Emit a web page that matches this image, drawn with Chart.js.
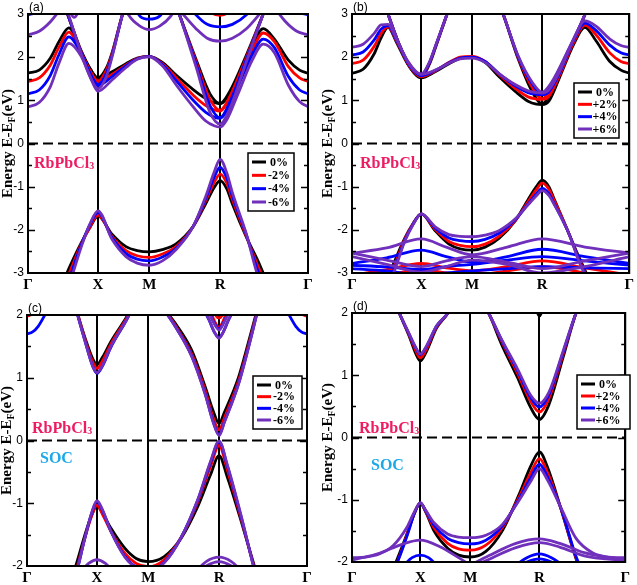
<!DOCTYPE html>
<html lang="en">
<head>
<meta charset="UTF-8">
<meta name="viewport" content="width=device-width, initial-scale=1.0">
<title>RbPbCl3 band structure under strain</title>
<script src="https://cdn.jsdelivr.net/npm/chart.js"></script>
<style>
  html, body { margin: 0; padding: 0; background: #ffffff; }
  body { position: relative; width: 637px; height: 585px; overflow: hidden; }
  canvas { position: absolute; }
</style>
</head>
<body>
<canvas id="panelA" width="318" height="296" style="left:0;top:0"></canvas>
<canvas id="panelB" width="319" height="296" style="left:318px;top:0"></canvas>
<canvas id="panelC" width="318" height="289" style="left:0;top:296px"></canvas>
<canvas id="panelD" width="319" height="289" style="left:318px;top:296px"></canvas>

<script>
// k-path ticks and labels
const kTicks = [0, 0.25, 0.433, 0.686, 1];
const kLabels = ['Γ', 'X', 'M', 'R', 'Γ'];
const strainsComp = ['0%', '-2%', '-4%', '-6%'];
const strainsTens = ['0%', '+2%', '+4%', '+6%'];
const strainColors = ['#000000', '#ff0000', '#0000ff', '#7030bb'];

// ---------- (a) compressive, no SOC ----------
const kA_cb1 = [0, 0.04, 0.08, 0.11, 0.146, 0.19, 0.22, 0.25, 0.30, 0.35, 0.39, 0.433, 0.48, 0.53, 0.59, 0.635, 0.665, 0.686, 0.71, 0.75, 0.80, 0.84, 0.88, 0.93, 0.97, 1.0];
const eA_cb1 = [
  [1.63, 1.70, 1.98, 2.35, 2.68, 2.13, 1.75, 1.50, 1.66, 1.85, 1.98, 2.02, 1.88, 1.58, 1.25, 1.04, 0.95, 0.92, 1.05, 1.55, 2.25, 2.66, 2.42, 1.93, 1.70, 1.63],
  [1.44, 1.52, 1.82, 2.22, 2.58, 2.10, 1.70, 1.42, 1.60, 1.82, 1.97, 2.02, 1.85, 1.52, 1.12, 0.88, 0.78, 0.75, 0.92, 1.45, 2.15, 2.56, 2.36, 1.78, 1.52, 1.44],
  [1.15, 1.24, 1.58, 2.05, 2.47, 2.08, 1.65, 1.34, 1.55, 1.80, 1.96, 2.02, 1.83, 1.45, 1.00, 0.72, 0.61, 0.58, 0.76, 1.32, 2.05, 2.42, 2.22, 1.55, 1.24, 1.15],
  [0.85, 0.95, 1.32, 1.85, 2.32, 2.02, 1.58, 1.21, 1.47, 1.76, 1.95, 2.01, 1.80, 1.35, 0.85, 0.52, 0.41, 0.38, 0.55, 1.15, 1.92, 2.30, 2.10, 1.35, 0.97, 0.85]
];
const kA_cb2 = [0.11, 0.141, 0.19, 0.225, 0.25, 0.28, 0.30, 0.338, 0.37];
const eA_cb2 = [
  [3.5, 3.0, 2.15, 1.70, 1.52, 1.75, 2.10, 3.0, 3.6],
  [3.5, 3.0, 2.12, 1.64, 1.45, 1.70, 2.07, 3.0, 3.6],
  [3.5, 3.0, 2.10, 1.57, 1.37, 1.63, 2.03, 3.0, 3.6],
  [3.55, 3.05, 2.08, 1.50, 1.27, 1.55, 2.00, 3.0, 3.6]
];
const kA_cb3 = [0.52, 0.54, 0.60, 0.65, 0.686, 0.72, 0.78, 0.84, 0.87];
const eA_cb3 = [
  [3.35, 3.0, 1.95, 1.15, 0.93, 1.20, 2.05, 3.0, 3.5],
  [3.35, 3.0, 1.90, 1.02, 0.77, 1.08, 2.00, 3.0, 3.5],
  [3.35, 3.0, 1.85, 0.88, 0.60, 0.95, 1.95, 3.0, 3.5],
  [3.35, 3.0, 1.78, 0.72, 0.45, 0.80, 1.90, 3.0, 3.5]
];
const kA_m = [0.33, 0.36, 0.40, 0.433, 0.47, 0.51, 0.54];
const eA_m = [null, null,
  [3.8, 3.4, 2.95, 2.88, 2.95, 3.35, 3.7],
  [3.4, 2.97, 2.72, 2.64, 2.72, 2.95, 3.3]];
const kA_r = [0.55, 0.60, 0.64, 0.686, 0.73, 0.78, 0.83];
const eA_r = [null,
  [3.8, 3.35, 3.08, 2.97, 3.08, 3.35, 3.8],
  [3.4, 2.98, 2.76, 2.70, 2.76, 2.98, 3.4],
  [3.02, 2.66, 2.44, 2.37, 2.44, 2.66, 3.02]];
const kA_g = [0, 0.04, 0.08, 0.12, 0.5, 0.88, 0.92, 0.96, 1.0];
const eA_g = [null, null,
  [2.98, 3.05, 3.2, 3.4, null, 3.4, 3.2, 3.05, 2.98],
  [2.52, 2.60, 2.82, 3.15, null, 3.15, 2.82, 2.60, 2.52]];
const kA_h = [0.145, 0.165, 0.185];
const eA_h = [null, null, null, [3.1, 2.92, 3.1]];
const kA_vb = [0.10, 0.15, 0.19, 0.22, 0.25, 0.30, 0.35, 0.39, 0.433, 0.48, 0.53, 0.59, 0.635, 0.665, 0.686, 0.71, 0.73, 0.78, 0.82, 0.86, 0.90];
const eA_vb = [
  [-3.6, -2.84, -2.30, -1.96, -1.68, -2.10, -2.39, -2.48, -2.51, -2.46, -2.32, -1.92, -1.39, -1.02, -0.86, -1.05, -1.40, -2.17, -2.70, -3.3, -3.8],
  [-3.7, -2.96, -2.33, -1.95, -1.66, -2.15, -2.48, -2.60, -2.64, -2.56, -2.38, -1.92, -1.32, -0.90, -0.71, -0.92, -1.30, -2.15, -2.82, -3.4, -3.9],
  [-3.8, -3.08, -2.35, -1.90, -1.60, -2.18, -2.55, -2.68, -2.72, -2.63, -2.42, -1.92, -1.27, -0.78, -0.55, -0.80, -1.22, -2.12, -2.93, -3.5, -4.0],
  [-3.9, -3.20, -2.40, -1.88, -1.56, -2.22, -2.62, -2.77, -2.82, -2.72, -2.45, -1.92, -1.22, -0.66, -0.37, -0.68, -1.14, -2.10, -3.05, -3.6, -4.1]
];

// ---------- (b) tensile, no SOC ----------
const kB_cb1 = [0, 0.04, 0.08, 0.105, 0.13, 0.16, 0.20, 0.25, 0.30, 0.35, 0.39, 0.433, 0.48, 0.53, 0.59, 0.635, 0.665, 0.686, 0.71, 0.75, 0.80, 0.84, 0.88, 0.93, 0.97, 1.0];
const eB_cb1 = [
  [1.63, 1.72, 2.08, 2.45, 2.69, 2.35, 1.85, 1.52, 1.66, 1.85, 1.97, 2.00, 1.88, 1.55, 1.20, 0.98, 0.91, 0.90, 0.98, 1.55, 2.30, 2.69, 2.38, 1.90, 1.70, 1.63],
  [1.85, 1.93, 2.25, 2.55, 2.70, 2.38, 1.88, 1.55, 1.68, 1.88, 2.00, 2.02, 1.90, 1.60, 1.27, 1.08, 1.03, 1.02, 1.09, 1.60, 2.35, 2.74, 2.52, 2.10, 1.90, 1.85],
  [2.05, 2.12, 2.40, 2.65, 2.73, 2.40, 1.90, 1.57, 1.69, 1.87, 1.98, 2.00, 1.90, 1.62, 1.33, 1.18, 1.14, 1.13, 1.20, 1.65, 2.40, 2.79, 2.62, 2.28, 2.10, 2.05],
  [2.23, 2.30, 2.55, 2.75, 2.76, 2.42, 1.92, 1.60, 1.70, 1.86, 1.96, 1.98, 1.88, 1.62, 1.36, 1.22, 1.18, 1.17, 1.24, 1.68, 2.42, 2.84, 2.72, 2.42, 2.27, 2.23]
];
const kB_cb2 = [0.10, 0.13, 0.17, 0.21, 0.25, 0.28, 0.30, 0.343, 0.37];
const eB_cb2 = [
  [3.6, 3.0, 2.3, 1.75, 1.55, 1.85, 2.20, 3.0, 3.5],
  [3.6, 3.0, 2.3, 1.76, 1.57, 1.87, 2.22, 3.0, 3.5],
  [3.6, 3.0, 2.3, 1.78, 1.59, 1.88, 2.23, 3.0, 3.5],
  [3.6, 3.0, 2.3, 1.80, 1.61, 1.90, 2.24, 3.0, 3.5]
];
const kB_cb3 = [0.52, 0.545, 0.60, 0.65, 0.686, 0.72, 0.78, 0.841, 0.87];
const eB_cb3 = [
  [3.4, 3.0, 1.95, 1.20, 0.92, 1.20, 2.05, 3.0, 3.5],
  [3.4, 3.0, 1.98, 1.30, 1.04, 1.30, 2.10, 3.0, 3.5],
  [3.4, 3.0, 2.00, 1.38, 1.15, 1.38, 2.15, 3.0, 3.5],
  [3.4, 3.0, 2.02, 1.42, 1.19, 1.42, 2.17, 3.0, 3.5]
];
const kB_vb = [0.10, 0.15, 0.19, 0.22, 0.25, 0.30, 0.35, 0.39, 0.433, 0.48, 0.53, 0.59, 0.635, 0.665, 0.686, 0.71, 0.73, 0.78, 0.82, 0.86, 0.90];
const eB_vb = [
  [-3.5, -2.78, -2.20, -1.86, -1.63, -2.02, -2.33, -2.44, -2.47, -2.40, -2.20, -1.78, -1.30, -1.00, -0.85, -1.00, -1.30, -2.05, -2.65, -3.2, -3.7],
  [-3.6, -2.88, -2.22, -1.86, -1.63, -1.99, -2.27, -2.36, -2.39, -2.33, -2.15, -1.78, -1.35, -1.07, -0.92, -1.06, -1.33, -2.05, -2.70, -3.25, -3.75],
  [-3.65, -2.95, -2.25, -1.87, -1.63, -1.96, -2.19, -2.25, -2.27, -2.22, -2.08, -1.76, -1.40, -1.17, -1.04, -1.16, -1.40, -2.05, -2.72, -3.3, -3.8],
  [-3.7, -3.00, -2.27, -1.88, -1.63, -1.93, -2.11, -2.15, -2.16, -2.12, -2.02, -1.74, -1.42, -1.21, -1.09, -1.20, -1.42, -2.05, -2.75, -3.3, -3.8]
];
const kB_low = [0, 0.125, 0.25, 0.34, 0.433, 0.56, 0.686, 0.84, 1.0];
const eB_low1 = [null,
  [-3.05, -2.92, -2.78, -2.88, -2.95, -2.85, -2.72, -2.88, -3.05],
  [-2.78, -2.65, -2.47, -2.62, -2.75, -2.62, -2.45, -2.62, -2.78],
  [-2.54, -2.42, -2.21, -2.40, -2.58, -2.40, -2.21, -2.40, -2.54]];
const eB_low2 = [null,
  [-3.2, -3.05, -2.92, -3.0, -3.05, -2.95, -2.85, -3.0, -3.2],
  [-2.82, -2.86, -2.92, -2.85, -2.80, -2.70, -2.62, -2.72, -2.82],
  [-2.54, -2.70, -2.85, -2.72, -2.62, -2.75, -2.90, -2.72, -2.54]];
const eB_low3 = [null, null,
  [-2.90, -2.95, -3.05, -3.0, -2.95, -2.90, -2.85, -2.88, -2.90],
  [-2.62, -2.80, -2.98, -2.85, -2.70, -2.80, -3.0, -2.85, -2.62]];

// ---------- (c) compressive, SOC ----------
const kC_x = [0.16, 0.182, 0.21, 0.235, 0.25, 0.27, 0.30, 0.36, 0.39];
const eC_x = [
  [2.35, 2.0, 1.60, 1.30, 1.21, 1.33, 1.58, 2.0, 2.25],
  [2.35, 2.0, 1.57, 1.25, 1.15, 1.27, 1.54, 1.98, 2.25],
  [2.35, 1.98, 1.54, 1.18, 1.07, 1.19, 1.49, 1.96, 2.25],
  [2.35, 1.98, 1.54, 1.18, 1.08, 1.20, 1.50, 1.96, 2.25]
];
const kC_r = [0.49, 0.529, 0.588, 0.636, 0.665, 0.686, 0.705, 0.755, 0.79, 0.82];
const eC_r = [
  [2.10, 1.87, 1.44, 0.86, 0.47, 0.27, 0.45, 1.00, 1.55, 2.05],
  [2.10, 1.84, 1.38, 0.80, 0.36, 0.17, 0.36, 0.94, 1.50, 2.02],
  [2.08, 1.82, 1.35, 0.75, 0.30, 0.09, 0.30, 0.90, 1.47, 2.00],
  [2.08, 1.82, 1.34, 0.74, 0.29, 0.08, 0.29, 0.89, 1.46, 2.00]
];
const kC_rt = [0.63, 0.65, 0.67, 0.686, 0.70, 0.72, 0.74];
const eC_rt1 = [
  [2.4, 2.25, 2.05, 1.95, 2.05, 2.25, 2.4],
  [2.3, 2.12, 1.90, 1.80, 1.90, 2.12, 2.3],
  [2.1, 1.92, 1.72, 1.64, 1.72, 1.92, 2.1],
  [2.1, 1.93, 1.72, 1.63, 1.72, 1.93, 2.1]
];
const eC_rt2 = [null,
  [2.3, 2.2, 2.02, 1.95, 2.02, 2.2, 2.3],
  [2.2, 2.05, 1.86, 1.78, 1.86, 2.05, 2.2],
  [2.2, 2.04, 1.85, 1.76, 1.85, 2.04, 2.2]];
const kC_g = [0, 0.02, 0.04, 0.06, 0.08, 0.5, 0.92, 0.94, 0.96, 0.98, 1.0];
const eC_g = [null,
  [1.98, 2.02, 2.12, 2.30, 2.50, null, 2.50, 2.30, 2.12, 2.02, 1.98],
  [1.70, 1.73, 1.82, 1.97, 2.15, null, 2.15, 1.97, 1.82, 1.73, 1.70],
  null];
const kC_vb = [0.15, 0.174, 0.207, 0.231, 0.25, 0.27, 0.30, 0.35, 0.39, 0.433, 0.49, 0.55, 0.61, 0.655, 0.686, 0.715, 0.765, 0.812, 0.84];
const eC_vb = [
  [-2.30, -2.00, -1.50, -1.19, -1.04, -1.16, -1.40, -1.72, -1.88, -1.93, -1.85, -1.56, -1.05, -0.55, -0.24, -0.58, -1.29, -2.00, -2.40],
  [-2.40, -2.10, -1.55, -1.20, -1.03, -1.18, -1.45, -1.80, -1.96, -2.01, -1.90, -1.55, -0.98, -0.42, -0.08, -0.46, -1.25, -2.03, -2.45],
  [-2.45, -2.15, -1.55, -1.16, -0.97, -1.12, -1.45, -1.85, -2.02, -2.07, -1.94, -1.55, -0.95, -0.36, -0.02, -0.40, -1.22, -2.05, -2.50],
  [-2.45, -2.15, -1.55, -1.15, -0.96, -1.11, -1.45, -1.86, -2.03, -2.08, -1.95, -1.55, -0.94, -0.34, -0.01, -0.38, -1.20, -2.06, -2.50]
];
const kC_lx = [0.19, 0.22, 0.25, 0.28, 0.31];
const eC_lx = [null, null, null, [-2.10, -1.96, -1.90, -1.96, -2.10]];
const kC_lr = [0.60, 0.64, 0.686, 0.73, 0.77];
const eC_lr1 = [null, null, null, [-2.10, -1.93, -1.86, -1.93, -2.10]];
const eC_lr2 = [null, null, null, [-2.15, -2.00, -1.93, -2.00, -2.15]];

// ---------- (d) tensile, SOC ----------
const kD_x = [0.15, 0.173, 0.209, 0.233, 0.25, 0.27, 0.31, 0.351, 0.38];
const eD_x = [
  [2.25, 2.0, 1.63, 1.35, 1.23, 1.36, 1.76, 2.0, 2.25],
  [2.25, 2.0, 1.65, 1.40, 1.28, 1.40, 1.78, 2.0, 2.25],
  [2.25, 2.0, 1.66, 1.44, 1.33, 1.44, 1.79, 2.0, 2.25],
  [2.25, 2.0, 1.67, 1.45, 1.34, 1.45, 1.80, 2.0, 2.25]
];
const kD_r = [0.48, 0.50, 0.547, 0.606, 0.654, 0.686, 0.72, 0.772, 0.82, 0.84];
const eD_r = [
  [2.15, 2.0, 1.50, 0.96, 0.48, 0.29, 0.52, 1.28, 2.0, 2.2],
  [2.15, 2.0, 1.55, 1.03, 0.58, 0.41, 0.62, 1.33, 2.0, 2.2],
  [2.15, 2.0, 1.57, 1.07, 0.64, 0.49, 0.68, 1.36, 2.0, 2.2],
  [2.15, 2.0, 1.58, 1.10, 0.68, 0.55, 0.72, 1.38, 2.0, 2.2]
];
const kD_rt = [0.676, 0.681, 0.686, 0.691, 0.696];
const eD_rt = [[2.05, 1.98, 1.95, 1.98, 2.05], null, null, null];
const kD_vb = [0.12, 0.161, 0.20, 0.23, 0.25, 0.27, 0.30, 0.35, 0.39, 0.433, 0.49, 0.55, 0.61, 0.655, 0.686, 0.715, 0.765, 0.82, 0.86];
const eD_vb = [
  [-2.40, -2.00, -1.56, -1.20, -1.05, -1.20, -1.50, -1.78, -1.89, -1.92, -1.83, -1.50, -0.93, -0.45, -0.23, -0.47, -1.15, -1.95, -2.40],
  [-2.35, -2.05, -1.58, -1.20, -1.05, -1.19, -1.45, -1.70, -1.79, -1.81, -1.73, -1.45, -0.97, -0.56, -0.34, -0.56, -1.15, -1.93, -2.35],
  [-2.30, -2.05, -1.60, -1.20, -1.05, -1.18, -1.41, -1.62, -1.69, -1.71, -1.65, -1.42, -1.00, -0.64, -0.43, -0.63, -1.14, -1.91, -2.30],
  null
];
const kD_vbp = [0, 0.05, 0.10, 0.15, 0.20, 0.23, 0.25, 0.27, 0.30, 0.35, 0.39, 0.433, 0.49, 0.55, 0.61, 0.655, 0.686, 0.715, 0.765, 0.82, 0.88, 0.94, 1.0];
const eD_vbp = [null, null, null,
  [-1.93, -1.92, -1.87, -1.74, -1.45, -1.18, -1.05, -1.17, -1.37, -1.55, -1.60, -1.61, -1.57, -1.40, -1.02, -0.70, -0.50, -0.68, -1.13, -1.62, -1.85, -1.92, -1.93]];
const kD_lx = [0, 0.10, 0.18, 0.25, 0.32, 0.39, 0.433];
const eD_lx = [null, null, null, [-1.97, -1.86, -1.72, -1.65, -1.75, -1.93, -2.05]];
const kD_lr = [0.433, 0.50, 0.60, 0.686, 0.76, 0.85, 0.93, 1.0];
const eD_lr1 = [null, null, null, [-2.05, -1.90, -1.70, -1.63, -1.70, -1.85, -1.92, -1.95]];
const eD_lr2 = [null, null, null, [-2.10, -1.96, -1.77, -1.69, -1.76, -1.90, -1.95, -1.97]];
const kD_bx = [0.19, 0.22, 0.25, 0.28, 0.31];
const eD_bx = [null, null, [-2.05, -1.93, -1.89, -1.93, -2.05], null];
const kD_br = [0.60, 0.64, 0.686, 0.73, 0.77];
const eD_br1 = [null, null, [-2.05, -1.93, -1.87, -1.93, -2.05], null];
const eD_br2 = [null, null, [-2.10, -2.00, -1.95, -2.00, -2.10], null];

// turn [k, [series per strain]] pairs into line datasets
function bandSets(bands) {
  const sets = [];
  bands.forEach(([k, series]) => {
    series.forEach((e, s) => {
      if (!e) return;
      sets.push({
        data: e.map((v, i) => ({ x: k[i], y: v })),
        borderColor: strainColors[s],
        order: 4 - s,
        clip: 0
      });
    });
  });
  return sets;
}

// frame, Fermi line, inward ticks, axis title, legend and labels
const decor = {
  id: 'decor',
  afterDatasetsDraw(chart, args, o) {
    const { ctx, chartArea: a } = chart;
    const y = chart.scales.y;
    ctx.save();
    ctx.strokeStyle = '#000';
    ctx.lineWidth = 2;
    const y0 = y.getPixelForValue(0);
    ctx.setLineDash([10, 5]);
    ctx.beginPath(); ctx.moveTo(a.left, y0); ctx.lineTo(a.right, y0); ctx.stroke();
    ctx.setLineDash([]);
    ctx.strokeRect(a.left, a.top, a.right - a.left, a.bottom - a.top);

    ctx.lineWidth = 1.5;
    for (let v = y.min + 0.5; v < y.max - 0.01; v += 0.5) {
      const py = Math.round(y.getPixelForValue(v)) + 0.5;
      const len = Math.abs(v % 1) < 0.01 ? 7 : 4;
      ctx.beginPath();
      ctx.moveTo(a.left, py); ctx.lineTo(a.left + len, py);
      ctx.moveTo(a.right, py); ctx.lineTo(a.right - len, py);
      ctx.stroke();
    }

    // y title with subscript F
    ctx.save();
    ctx.translate(o.titleX, (a.top + a.bottom) / 2);
    ctx.rotate(-Math.PI / 2);
    ctx.fillStyle = '#000';
    ctx.textBaseline = 'middle';
    const big = 'bold 15px "Liberation Serif"', small = 'bold 10px "Liberation Serif"';
    const parts = [['Energy E-E', big, 0], ['F', small, 4], ['(eV)', big, 0]];
    let tot = 0;
    parts.forEach(p => { ctx.font = p[1]; tot += ctx.measureText(p[0]).width; });
    let tx = -tot / 2;
    parts.forEach(p => { ctx.font = p[1]; ctx.fillText(p[0], tx, p[2]); tx += ctx.measureText(p[0]).width; });
    ctx.restore();

    // panel letter
    ctx.fillStyle = '#000';
    ctx.font = '12px "Liberation Sans"';
    ctx.textBaseline = 'alphabetic';
    ctx.fillText(o.letter, a.left + 1, a.top - 3);

    // compound label
    ctx.fillStyle = '#ee1d62';
    ctx.font = 'bold 16px "Liberation Serif"';
    ctx.fillText('RbPbCl', o.compound.x, o.compound.y);
    const w = ctx.measureText('RbPbCl').width;
    ctx.font = 'bold 10px "Liberation Serif"';
    ctx.fillText('3', o.compound.x + w, o.compound.y + 1);
    if (o.soc) {
      ctx.fillStyle = '#1ca9e8';
      ctx.font = 'bold 16px "Liberation Serif"';
      ctx.fillText('SOC', o.soc.x, o.soc.y);
    }

    // legend
    const L = o.legend;
    ctx.fillStyle = '#fff';
    ctx.fillRect(L.x, L.y, L.w, L.h);
    ctx.strokeStyle = '#000';
    ctx.lineWidth = 1.5;
    ctx.strokeRect(L.x, L.y, L.w, L.h);
    ctx.font = 'bold 12px "Liberation Serif"';
    ctx.textAlign = 'center';
    ctx.textBaseline = 'middle';
    o.labels.forEach((t, i) => {
      const cy = L.y + 9 + i * (L.h - 18) / 3;
      ctx.strokeStyle = strainColors[i];
      ctx.lineWidth = 3;
      ctx.beginPath(); ctx.moveTo(L.x + 4, cy); ctx.lineTo(L.x + 18, cy); ctx.stroke();
      ctx.fillStyle = '#000';
      ctx.fillText(t, L.x + 31, cy + 0.5);
    });
    ctx.restore();
  }
};

function makePanel(p) {
  new Chart(document.getElementById(p.id), {
    type: 'line',
    data: { datasets: bandSets(p.bands) },
    plugins: [decor],
    options: {
      responsive: false,
      animation: false,
      events: [],
      layout: { padding: { left: 0, top: p.pt, right: p.pr, bottom: 0 } },
      elements: {
        line: { borderWidth: 2.8, cubicInterpolationMode: 'monotone', capBezierPoints: false, fill: false },
        point: { radius: 0 }
      },
      scales: {
        x: {
          type: 'linear', min: 0, max: 1,
          afterBuildTicks: s => { s.ticks = kTicks.map(v => ({ value: v })); },
          afterFit: s => { s.height = p.xh; },
          ticks: {
            autoSkip: false, maxRotation: 0, padding: p.xPad, color: '#000',
            font: { family: 'Liberation Serif', weight: 'bold', size: 15 },
            callback: (v, i) => kLabels[i]
          },
          grid: { color: '#000', lineWidth: 2, drawTicks: false },
          border: { display: false }
        },
        y: {
          min: p.yMin, max: p.yMax,
          afterFit: s => { s.width = p.yw; },
          ticks: { stepSize: 1, padding: 4, color: '#000', font: { family: 'Liberation Sans', size: 12 } },
          grid: { display: false, drawTicks: false },
          border: { display: false }
        }
      },
      plugins: {
        legend: { display: false },
        tooltip: { enabled: false },
        decor: {
          letter: p.letter, titleX: p.titleX, labels: p.labels,
          legend: p.legend, compound: p.compound, soc: p.soc
        }
      }
    }
  });
}

makePanel({
  id: 'panelA', yMin: -3, yMax: 3, yw: 28, pt: 14, pr: 10, xh: 23, xPad: 3,
  letter: '(a)', titleX: 8, labels: strainsComp,
  legend: { x: 248, y: 153, w: 46, h: 58 },
  compound: { x: 34, y: 168 }, soc: null,
  bands: [[kA_vb, eA_vb], [kA_cb1, eA_cb1], [kA_cb2, eA_cb2], [kA_cb3, eA_cb3],
          [kA_m, eA_m], [kA_r, eA_r], [kA_g, eA_g], [kA_h, eA_h]]
});
makePanel({
  id: 'panelB', yMin: -3, yMax: 3, yw: 34, pt: 14, pr: 4, xh: 23, xPad: 3,
  letter: '(b)', titleX: 10, labels: strainsTens,
  legend: { x: 256, y: 83, w: 45, h: 55 },
  compound: { x: 42, y: 168 }, soc: null,
  bands: [[kB_low, eB_low1], [kB_low, eB_low2], [kB_low, eB_low3], [kB_vb, eB_vb],
          [kB_cb1, eB_cb1], [kB_cb2, eB_cb2], [kB_cb3, eB_cb3]]
});
makePanel({
  id: 'panelC', yMin: -2, yMax: 2, yw: 27, pt: 19, pr: 11, xh: 19, xPad: 3,
  letter: '(c)', titleX: 7, labels: strainsComp,
  legend: { x: 253, y: 80, w: 49, h: 53 },
  compound: { x: 32, y: 137 }, soc: { x: 40, y: 167 },
  bands: [[kC_lx, eC_lx], [kC_lr, eC_lr1], [kC_lr, eC_lr2], [kC_vb, eC_vb],
          [kC_x, eC_x], [kC_r, eC_r], [kC_rt, eC_rt1], [kC_rt, eC_rt2], [kC_g, eC_g]]
});
makePanel({
  id: 'panelD', yMin: -2, yMax: 2, yw: 34, pt: 17, pr: 4, xh: 23, xPad: 7,
  letter: '(d)', titleX: 10, labels: strainsTens,
  legend: { x: 259, y: 79, w: 53, h: 54 },
  compound: { x: 41, y: 137 }, soc: { x: 53, y: 174 },
  bands: [[kD_bx, eD_bx], [kD_br, eD_br1], [kD_br, eD_br2], [kD_lx, eD_lx],
          [kD_lr, eD_lr1], [kD_lr, eD_lr2], [kD_vb, eD_vb], [kD_vbp, eD_vbp],
          [kD_x, eD_x], [kD_r, eD_r], [kD_rt, eD_rt]]
});
</script>
</body>
</html>
